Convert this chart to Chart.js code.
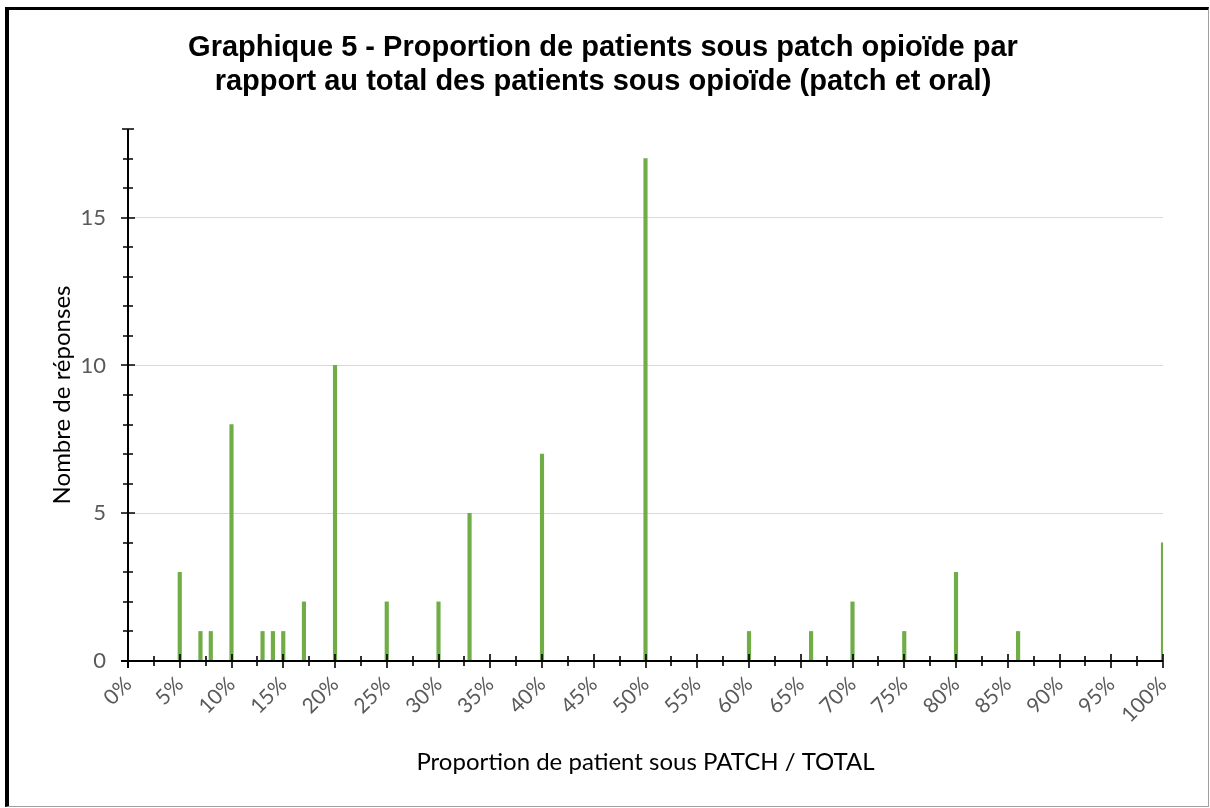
<!DOCTYPE html>
<html lang="fr">
<head>
<meta charset="utf-8">
<title>Graphique 5</title>
<script src="https://cdn.jsdelivr.net/npm/chart.js@4.4.1/dist/chart.umd.min.js"></script>
<style>
    html, body { margin: 0; padding: 0; background: #fff; }
    #wrap { position: relative; width: 1210px; height: 808px; overflow: hidden; }
    #frame {
        position: absolute; left: 5px; top: 7px; width: 1204px; height: 800px;
        box-sizing: border-box; pointer-events: none;
        border-left: 4px solid #000; border-top: 3px solid #000;
        border-right: 1px solid #a0a0a0; border-bottom: 1px solid #a0a0a0;
    }
    canvas { position: absolute; left: 0; top: 0; }
</style>
</head>
<body>
<div id="wrap">
    <canvas id="chart" width="1210" height="808"></canvas>
    <div id="frame"></div>
</div>
<script>
const proportions = [5, 7, 8, 10, 13, 14, 15, 17, 20, 25, 30, 33, 40, 50, 60, 66, 70, 75, 80, 86, 100];
const responses = [3, 1, 1, 8, 1, 1, 1, 2, 10, 2, 2, 5, 7, 17, 1, 1, 2, 1, 3, 1, 4];
const titleLines = [
    'Graphique 5 - Proportion de patients sous patch opioïde par',
    'rapport au total des patients sous opioïde (patch et oral)'
];
const xTitle = 'Proportion de patient sous PATCH / TOTAL';
const yTitle = 'Nombre de réponses';

const labelFont = 'Lato, Carlito, Calibri, sans-serif';
const labelGrey = '#595959';
const padLeft = 43;

// axis lines with ticks crossing them, drawn over the bars
const crossAxes = {
    id: 'crossAxes',
    afterDatasetsDraw(chart) {
        const { ctx, chartArea, scales } = chart;
        const xs = scales.x, ys = scales.y;
        const x0 = xs.getPixelForValue(0);
        const y0 = ys.getPixelForValue(0);
        ctx.save();
        ctx.strokeStyle = '#000';
        ctx.lineWidth = 2;
        ctx.beginPath();
        ctx.moveTo(x0, chartArea.top);
        ctx.lineTo(x0, y0 + 7);
        ctx.moveTo(x0 - 7, y0);
        ctx.lineTo(xs.getPixelForValue(100), y0);
        ctx.stroke();

        ctx.lineWidth = 1.6;
        ctx.beginPath();
        for (let v = 0; v <= 18; v++) {
            const y = Math.round(ys.getPixelForValue(v));
            const half = (v % 5 === 0) ? 7 : (v === 18 ? 6 : 5);
            ctx.moveTo(x0 - half, y);
            ctx.lineTo(x0 + half, y);
        }
        for (let v = 2.5; v <= 100; v += 2.5) {
            const x = Math.round(xs.getPixelForValue(v));
            const half = (v % 5 === 0) ? 7 : 5;
            ctx.moveTo(x, y0 - half);
            ctx.lineTo(x, y0 + half);
        }
        ctx.stroke();
        ctx.restore();
    }
};

const ctx = document.getElementById('chart').getContext('2d');
new Chart(ctx, {
    type: 'bar',
    data: {
        datasets: [{
            data: proportions.map((p, i) => ({ x: p, y: responses[i] })),
            backgroundColor: '#70ad47',
            borderWidth: 0,
            barThickness: 3.5
        }]
    },
    options: {
        responsive: false,
        animation: false,
        layout: { padding: { left: padLeft, right: 47, top: 0, bottom: 15 } },
        scales: {
            x: {
                type: 'linear',
                min: 0,
                max: 100,
                offset: false,
                afterFit: (scale) => { scale.height = 808 - 15 - 661; },
                grid: { display: false, drawTicks: false, offset: false },
                border: { display: false },
                ticks: {
                    stepSize: 5,
                    autoSkip: false,
                    maxRotation: 45,
                    minRotation: 45,
                    padding: 11,
                    color: labelGrey,
                    font: { family: labelFont, size: 21 },
                    callback: (v) => v + '%'
                },
                title: {
                    display: true,
                    text: xTitle,
                    color: '#000',
                    font: { family: labelFont, size: 24, lineHeight: 1.2 },
                    padding: { top: 0, bottom: 16 }
                }
            },
            y: {
                min: 0,
                max: 18,
                afterFit: (scale) => { scale.width = 128 - padLeft; },
                grid: {
                    drawTicks: false,
                    color: (c) => (c.tick && c.tick.value > 0 ? '#d9d9d9' : 'rgba(0,0,0,0)'),
                    lineWidth: 1
                },
                border: { display: false },
                ticks: {
                    stepSize: 5,
                    includeBounds: false,
                    padding: 22,
                    color: labelGrey,
                    font: { family: labelFont, size: 22 }
                },
                title: {
                    display: true,
                    text: yTitle,
                    color: '#000',
                    font: { family: labelFont, size: 24, lineHeight: 1.2 },
                    padding: { top: 62 - padLeft - 14.4, bottom: 0 }
                }
            }
        },
        plugins: {
            legend: { display: false },
            tooltip: { enabled: false },
            title: {
                display: true,
                text: titleLines,
                color: '#000',
                font: { family: 'Liberation Sans, Arial, sans-serif', size: 29, weight: 'bold', lineHeight: 1.16 },
                padding: { top: 31.5, bottom: 30.2 }
            }
        }
    },
    plugins: [crossAxes]
});
</script>
</body>
</html>
